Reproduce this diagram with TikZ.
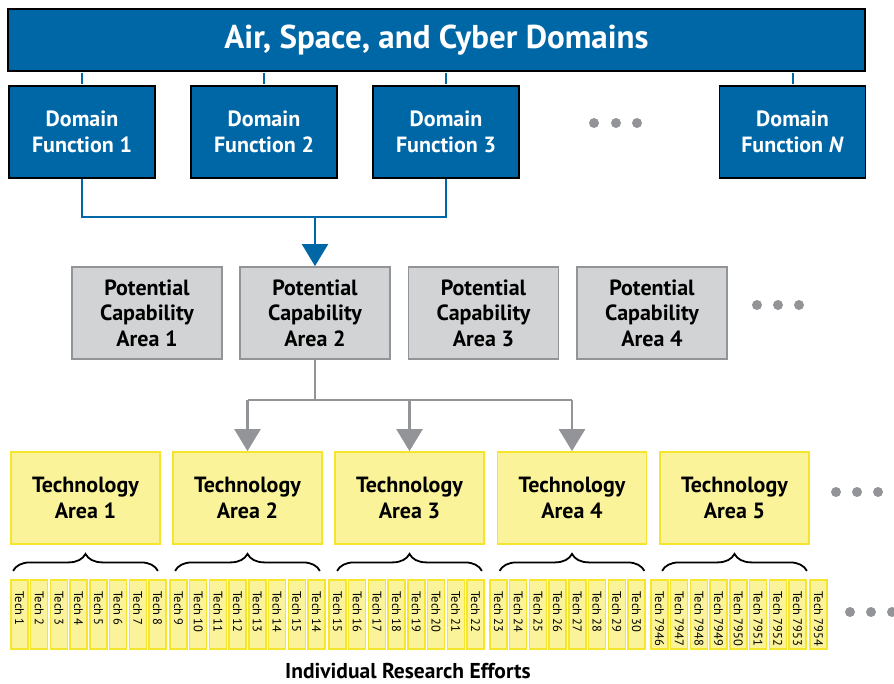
\documentclass[tikz,border=0pt]{standalone}
\usepackage{fontspec}
\setmainfont{PT Sans}
\usetikzlibrary{arrows.meta,calc,decorations.pathreplacing}
\definecolor{domblue}{RGB}{0,103,166}
\definecolor{capgray}{RGB}{209,211,212}
\definecolor{capedge}{RGB}{146,148,151}
\definecolor{techfill}{RGB}{250,243,153}
\definecolor{techedge}{RGB}{245,229,45}
\tikzset{
  dombox/.style={draw=black, line width=1.8pt, fill=domblue, text=white, align=center,
    font=\fontsize{22}{25.5}\selectfont\bfseries, minimum width=146pt, minimum height=92pt, inner sep=0pt},
  capbox/.style={draw=capedge, line width=1.8pt, fill=capgray, align=center,
    font=\fontsize{22}{25.5}\selectfont\bfseries, minimum width=150pt, minimum height=92pt, inner sep=0pt},
  techarea/.style={draw=techedge, line width=1.8pt, fill=techfill, align=center,
    font=\fontsize{22}{26}\selectfont\bfseries, minimum width=149pt, minimum height=92pt, inner sep=0pt},
  techbox/.style={draw=techedge, line width=1.4pt, fill=techfill, minimum width=17pt, minimum height=69pt, inner sep=0pt},
  techlbl/.style={rotate=-90, anchor=west, inner sep=0pt, font=\fontsize{12.5}{12.5}\selectfont},
  bluelink/.style={draw=domblue, line width=2pt},
  graylink/.style={draw=capedge, line width=2.5pt},
  techbrace/.style={draw=black, line width=1.8pt, decorate, decoration={brace, amplitude=17pt}},
  moredots/.style={fill=capedge}
}
\begin{document}
\begin{tikzpicture}[x=1pt, y=-1pt]
		%%%%% START %%%%%
		\useasboundingbox (0,0) rectangle (894,683);
		
		\node[dombox, minimum width=857pt, minimum height=62pt, font=\fontsize{33}{35}\selectfont\bfseries] (domains) at (436.5,40) {Air, Space, and Cyber Domains};
		
		\node[dombox] (df1) at (82,132) {Domain\\Function 1};
		\node[dombox] (df2) at (264,132) {Domain\\Function 2};
		\node[dombox] (df3) at (446,132) {Domain\\Function 3};
		\node[dombox] (dfn) at (792.5,132) {Domain\\Function \textit{N}};
		\foreach \d in {df1,df2,df3,dfn}
			\draw[bluelink, shorten <=0.9pt, shorten >=0.9pt] (domains.south -| \d.north) -- (\d.north);
		\foreach \x in {594,616,637} \fill[moredots] (\x,123) circle (5pt);
		
		\node[capbox] (pca1) at (147,313) {Potential\\Capability\\Area 1};
		\node[capbox] (pca2) at (315,313) {Potential\\Capability\\Area 2};
		\node[capbox] (pca3) at (483.5,313) {Potential\\Capability\\Area 3};
		\node[capbox] (pca4) at (652,313) {Potential\\Capability\\Area 4};
		\foreach \x in {757,778,799} \fill[moredots] (\x,305) circle (5pt);
		
		\coordinate (fork) at (315,217);
		\draw[bluelink] (df1.south) |- (fork) -| (df3.south);
		\draw[bluelink, -{Triangle[width=26pt,length=22pt]}] (fork) -- (pca2.north);
		
		\node[techarea] (ta1) at (85.5,498) {Technology\\Area 1};
		\node[techarea] (ta2) at (247.5,498) {Technology\\Area 2};
		\node[techarea] (ta3) at (409.5,498) {Technology\\Area 3};
		\node[techarea] (ta4) at (572,498) {Technology\\Area 4};
		\node[techarea] (ta5) at (734.5,498) {Technology\\Area 5};
		\foreach \x in {836,857,878} \fill[moredots] (\x,492) circle (5pt);
		
		\coordinate (split) at (315,400);
		\draw[graylink] (pca2.south) -- (split);
		\draw[graylink] (split -| ta2.north) -- (split -| ta4.north);
		\foreach \t in {ta2,ta3,ta4}
			\draw[graylink, -{Triangle[width=26pt,length=22pt]}] (split -| \t.north) -- (\t.north);
		
		\foreach \t in {ta1,ta2,ta3,ta4,ta5}
			\draw[techbrace] ($(\t.south west)+(3,26)$) -- ($(\t.south east)+(-3,26)$);
		
		\foreach \gx/\labs in {11/{1,2,3,4,5,6,7,8}, 170/{9,10,11,12,13,14,15,14}, 329/{15,16,17,18,19,20,21,22}, 490/{23,24,25,26,27,28,29,30}, 651/{7946,7947,7948,7949,7950,7951,7952,7953}}
			\foreach \lab [count=\i from 0] in \labs {
				\pgfmathsetmacro\tx{\gx+8.5+\i*19.7}
				\node[techbox] (tk-\gx-\i) at (\tx,614.5) {};
				\node[techlbl] at ([yshift=-12pt]tk-\gx-\i.north) {Tech \lab};
			}
		\node[techbox] (tk-last) at (818.5,614.5) {};
		\node[techlbl] at ([yshift=-12pt]tk-last.north) {Tech 7954};
		\foreach \x in {850,871,892} \fill[moredots] (\x,612) circle (5pt);
		
		\node[font=\fontsize{21.5}{23}\selectfont\bfseries] (efforts) at (408,671) {Individual Research Efforts};
		
		%%%%% END %%%%%
\end{tikzpicture}
\end{document}
